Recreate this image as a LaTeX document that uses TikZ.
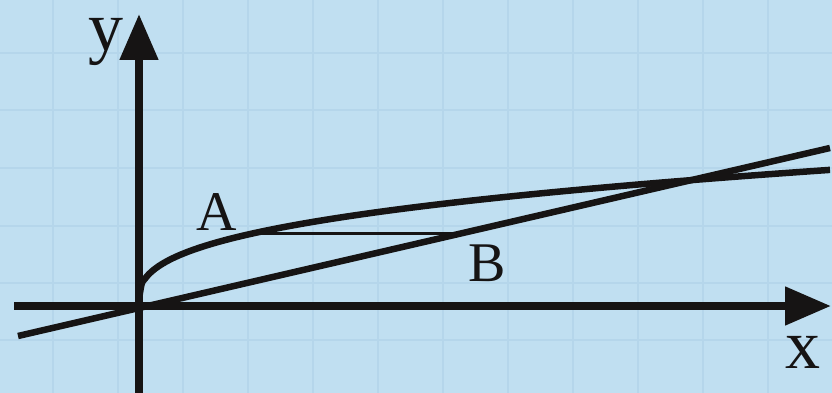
\documentclass[tikz,border=0pt]{standalone}
\usepackage{fontspec}
\setmainfont{Liberation Serif}
\usetikzlibrary{arrows.meta}
\definecolor{bgblue}{RGB}{192,223,241}
\definecolor{gridblue}{RGB}{181,214,235}
\definecolor{ink}{RGB}{22,20,20}
\tikzset{
  axisline/.style={ink,line width=8pt,-{Triangle[length=46pt,width=37pt]}},
  curveline/.style={ink,line width=6.5pt},
  thinline/.style={ink,line width=3pt},
  ptlabel/.style={inner sep=0pt,text=ink,font=\fontsize{56}{60}\selectfont},
  axlabel/.style={inner sep=0pt,text=ink,font=\fontsize{70}{74}\selectfont},
  gridline/.style={gridblue,line width=2pt}
}
\begin{document}
\begin{tikzpicture}[x=1pt,y=-1pt]
\fill[bgblue] (0,0) rectangle (832,393);
\useasboundingbox (0,0) rectangle (832,393);
\foreach \gx in {53,118,183,248,313,378,443,508,573,638,703,768}
  \draw[gridline] (\gx,0) -- (\gx,393);
\foreach \gy in {53,110,168,226,283,340}
  \draw[gridline] (0,\gy) -- (832,\gy);
\coordinate (O) at (138,306);
\coordinate (xs) at (14,306);
\coordinate (xe) at (831,306);
\coordinate (ys) at (139,393);
\coordinate (ye) at (139,14);
\coordinate (Ls) at (18,336);
\coordinate (Le) at (830,148);
\coordinate (A) at (255,233);
\coordinate (B) at (455,233);
\draw[axisline] (xs) -- (xe);
\draw[axisline] (ys) -- (ye);
\draw[curveline,line cap=butt] (Ls) -- (Le);
\draw[curveline,line join=round] (O) -- plot[domain=0:692,samples=200,smooth] ({138+\x},{306-13.8*pow(\x,0.35)});
\draw[thinline] (A) -- (B);
\node[ptlabel] (lA) at (217,212) {A};
\node[ptlabel] (lB) at (487,263) {B};
\node[axlabel] (lx) at (803,352) {x};
\node[axlabel] (ly) at (106,42) {y};
\end{tikzpicture}
\end{document}
